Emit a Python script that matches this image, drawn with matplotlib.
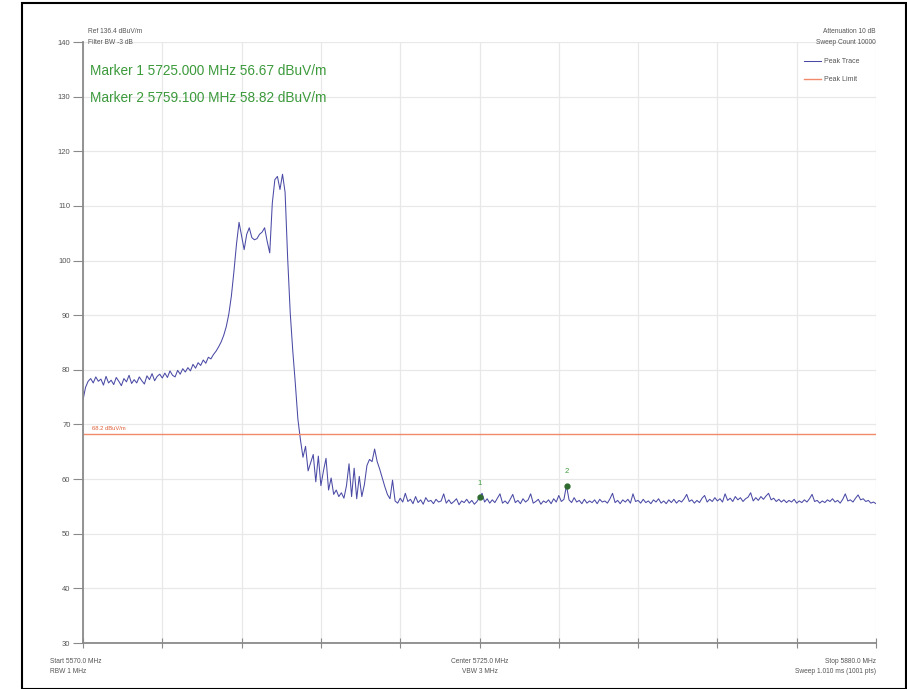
import numpy as np
import matplotlib
matplotlib.use("Agg")
import matplotlib.pyplot as plt
from matplotlib.patches import Rectangle

plt.rcParams['font.family'] = ['Liberation Sans', 'DejaVu Sans']

# sweep grid, 1 MHz steps
freq_mhz = np.arange(5570, 5881)

# trace levels (dBuV/m)
lvl_skirt = [74.5, 76.8, 77.9, 78.4, 77.6, 78.7, 77.9, 78.3, 77.2, 78.8,
             77.6, 78.1, 77.3, 78.6, 77.9, 77.1, 78.4, 77.8, 79.0, 77.5,
             78.2, 77.6, 78.7, 78.0, 77.4, 78.9, 78.2, 79.3, 78.0, 78.8,
             79.2, 78.5, 79.4, 78.6, 79.8, 79.0, 78.7, 79.9, 79.2, 80.2,
             79.6, 80.4, 79.8, 81.0, 80.3, 81.3, 80.8, 81.8, 81.2, 82.3,
             82.0]
lvl_carrier = [82.8, 83.4, 84.2, 85.1, 86.3, 87.9, 90.2, 93.5, 98.0, 103.0,
               107.0, 104.5, 102.0, 104.8, 106.0, 104.2, 103.8, 104.0, 104.8, 105.2,
               106.0, 103.5, 101.4, 110.5, 114.8, 115.4, 113.0, 115.8, 112.5, 100.5,
               90.5, 83.5, 77.5, 71.0, 67.2]
lvl_spurs = [64.0, 66.0, 61.5, 63.0, 64.5, 59.5, 64.2, 58.8, 61.5, 63.8,
             58.0, 60.2, 57.2, 58.0, 56.8, 57.5, 56.5, 58.8, 62.8, 56.8,
             62.0, 56.4, 60.5, 56.8, 59.0, 62.5, 63.6, 63.2, 65.5, 63.2,
             61.8, 60.2, 58.6, 57.2, 56.4, 59.8, 56.0]
lvl_floor = [55.6, 56.5, 55.8, 57.4, 55.9, 56.3, 55.5,
             56.8, 55.7, 56.2, 55.4, 56.6, 55.9, 56.1, 55.5, 56.3, 55.8,
             56.0, 57.3, 55.6, 56.2, 55.5, 55.9, 56.4, 55.3, 56.0, 55.7,
             56.3, 55.6, 56.1, 55.4, 55.9, 56.67, 57.4, 55.8, 56.4, 55.6,
             56.2, 55.7, 56.5, 57.3, 55.6, 56.0, 55.5, 56.3, 57.2, 55.7,
             56.1, 55.5, 56.4, 55.8, 56.2, 57.3, 55.6, 55.9, 56.3, 55.4,
             56.0, 55.7, 56.2, 55.5, 56.4, 55.8, 57.0, 55.9, 56.3, 58.82,
             56.2, 55.7, 56.6, 55.8, 56.1, 55.5, 56.3, 55.6, 56.0, 55.7,
             56.2, 55.5, 56.3, 55.8, 56.0, 55.6, 56.4, 57.4, 55.7, 56.1,
             55.5, 56.2, 55.8, 56.3, 55.6, 57.3, 55.9, 56.1, 55.6, 56.3,
             55.7, 56.0, 55.5, 56.2, 55.8, 56.4, 55.6, 56.0, 55.5, 56.2,
             55.7, 56.3, 55.6, 56.1, 55.8, 56.4, 57.2, 55.9, 56.2, 55.6,
             56.1, 55.7, 56.5, 57.0, 55.8, 56.3, 55.9, 56.6, 56.0, 56.4,
             55.8, 57.3, 56.1, 56.5, 55.9, 56.8, 56.2, 56.6, 55.9, 56.4,
             56.7, 57.5, 56.0, 56.6, 56.1, 56.8, 56.3, 56.9, 57.4, 56.2,
             56.5, 55.9, 56.3, 55.8, 56.2, 55.7, 56.1, 55.8, 56.3, 55.6,
             56.0, 55.7, 56.2, 55.8, 56.4, 57.2, 55.9, 56.1, 55.6, 56.0,
             55.7, 56.2, 55.9, 56.4, 55.8, 56.1, 55.6, 56.3, 57.3, 56.0,
             56.2, 55.8, 56.5, 57.1, 56.2, 56.4, 55.9, 56.1, 55.6, 55.8, 55.5]
level = np.array(lvl_skirt + lvl_carrier + lvl_spurs + lvl_floor)
assert len(level) == len(freq_mhz)

limit_dbuv = 68.2
marker_freq = [5725.0, 5759.1]
marker_level = [56.67, 58.82]
marker_names = ['1', '2']

trace_col = '#4a4aa6'
limit_col = '#f08a6a'
green = '#3c9a3c'
txt_gray = '#555555'

fig = plt.figure(figsize=(9.07, 6.89), dpi=100)
ax = fig.add_axes([83/907, 46/689, 793/907, 601/689])

ax.plot(freq_mhz, level, color=trace_col, lw=0.75, label='Peak Trace')
ax.axhline(limit_dbuv, color=limit_col, lw=1.0, label='Peak Limit')
ax.plot(marker_freq, marker_level, 'o', color='#2e6b2e', ms=3.5, zorder=5)
for f, v, n in zip(marker_freq, marker_level, marker_names):
    ax.annotate(n, (f, v), xytext=(0, 9), textcoords='offset points',
                ha='center', fontsize=5.5, color=green)
ax.text(5573.5, limit_dbuv + 0.8, '68.2 dBuV/m', color='#e0603a', fontsize=4.2)

ax.set_xlim(5570, 5880)
ax.set_ylim(30, 140)
ax.set_yticks(np.arange(30, 141, 10))
ax.set_xticks(np.linspace(5570, 5880, 11))
ax.set_xticklabels([])
ax.grid(True, color='#e8e8e8', lw=0.9)
ax.set_axisbelow(True)
for s in ['top', 'right']:
    ax.spines[s].set_visible(False)
for s in ['left', 'bottom']:
    ax.spines[s].set_color('#8a8a8a')
    ax.spines[s].set_linewidth(1.3)
ax.tick_params(axis='y', length=7, width=0.8, color='#8a8a8a',
               labelsize=5.5, labelcolor=txt_gray, pad=2)
ax.tick_params(axis='x', direction='inout', length=7, width=0.8, color='#8a8a8a')

# instrument annotations
ax.text(0.006, 1.017, 'Ref 136.4 dBuV/m', transform=ax.transAxes, fontsize=4.8,
        color=txt_gray, va='center')
ax.text(0.006, 1.0, 'Filter BW -3 dB', transform=ax.transAxes, fontsize=4.8,
        color=txt_gray, va='center')
ax.text(0.009, 0.952, 'Marker 1 5725.000 MHz 56.67 dBuV/m', transform=ax.transAxes,
        fontsize=9.8, color=green, va='center')
ax.text(0.009, 0.907, 'Marker 2 5759.100 MHz 58.82 dBuV/m', transform=ax.transAxes,
        fontsize=9.8, color=green, va='center')
ax.text(1.0, 1.017, 'Attenuation 10 dB', transform=ax.transAxes, fontsize=4.8,
        color=txt_gray, ha='right', va='center')
ax.text(1.0, 1.0, 'Sweep Count 10000', transform=ax.transAxes, fontsize=4.8,
        color=txt_gray, ha='right', va='center')

ax.text(-0.042, -0.025, 'Start 5570.0 MHz\nRBW 1 MHz', transform=ax.transAxes,
        fontsize=4.8, color=txt_gray, va='top', ha='left', linespacing=1.5)
ax.text(0.5, -0.025, 'Center 5725.0 MHz\nVBW 3 MHz', transform=ax.transAxes,
        fontsize=4.8, color=txt_gray, va='top', ha='center', linespacing=1.5)
ax.text(1.0, -0.025, 'Stop 5880.0 MHz\nSweep 1.010 ms (1001 pts)', transform=ax.transAxes,
        fontsize=4.8, color=txt_gray, va='top', ha='right', linespacing=1.5)

leg = ax.legend(loc='upper right', bbox_to_anchor=(866/907, 1 - 52/689),
                bbox_transform=fig.transFigure, frameon=False, fontsize=5,
                handlelength=2.4, labelspacing=1.6, handletextpad=0.5)
for t in leg.get_texts():
    t.set_color(txt_gray)

# outer frame of the screenshot
fig.patches.append(Rectangle((22/907, 0), 884/907, 1 - 3/689, transform=fig.transFigure,
                             fill=False, ec='black', lw=1.5))

fig.savefig('out.png', dpi=100)
